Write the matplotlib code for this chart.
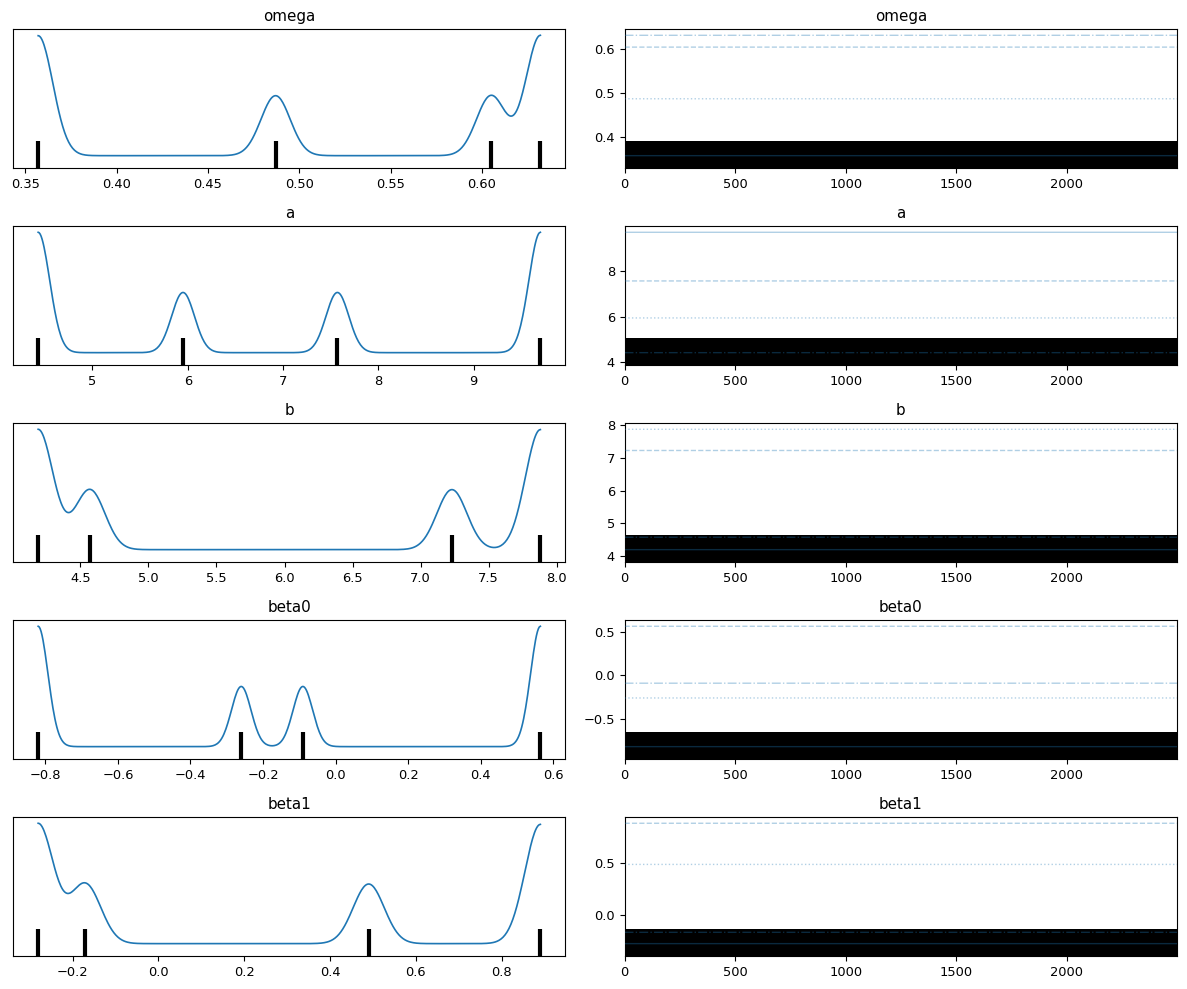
import numpy as np
import matplotlib
matplotlib.use('Agg')
import matplotlib.pyplot as plt

plt.rcParams['font.family'] = ['DejaVu Sans']

# variable names and the (stuck) value of each of the 4 chains
var_names = ['omega', 'a', 'b', 'beta0', 'beta1']
omega_chains = [0.357, 0.605, 0.487, 0.632]
a_chains = [9.70, 7.57, 5.95, 4.43]
b_chains = [4.19, 7.23, 7.88, 4.57]
beta0_chains = [-0.82, 0.565, -0.26, -0.09]
beta1_chains = [-0.28, 0.89, 0.49, -0.17]
chain_values = [omega_chains, a_chains, b_chains, beta0_chains, beta1_chains]

# kde bandwidth
bandwidths = [0.008, 0.12, 0.11, 0.027, 0.036]

n_draws = 2500
draws = np.arange(n_draws)
chain_styles = ['-', '--', ':', '-.']


def kde_reflect(vals, bw, grid):
    # gaussian kde with reflection at the data bounds
    lo, hi = min(vals), max(vals)
    dens = np.zeros_like(grid)
    for v in vals:
        for c in (v, 2 * lo - v, 2 * hi - v):
            dens += np.exp(-0.5 * ((grid - c) / bw) ** 2)
    return dens / (len(vals) * bw * np.sqrt(2 * np.pi))


fig, axes = plt.subplots(5, 2, figsize=(11.87, 9.89), dpi=100)
fig.subplots_adjust(left=0.011, right=0.9916, top=0.9707, bottom=0.0334,
                    wspace=0.107, hspace=0.417)

for i, name in enumerate(var_names):
    vals = chain_values[i]
    ax_l, ax_r = axes[i]

    # left: combined density + rug of divergent values
    grid = np.linspace(min(vals), max(vals), 512)
    ax_l.plot(grid, kde_reflect(vals, bandwidths[i], grid), color='C0', lw=1.2)
    y0 = ax_l.get_ylim()[0]
    ax_l.plot(vals, np.zeros(len(vals)) + y0, marker='|', color='black',
              markeredgewidth=3, markersize=30, linestyle='None')
    ax_l.set_yticks([])
    ax_l.set_title(name, fontsize=10.9)
    ax_l.tick_params(labelsize=9.4)

    # right: trace per chain + divergence markers
    for c, v in enumerate(vals):
        ax_r.plot(draws, np.full(n_draws, v), color='C0', alpha=0.35,
                  lw=1.0, linestyle=chain_styles[c], zorder=3)
    y0 = ax_r.get_ylim()[0]
    ax_r.plot(draws, np.zeros(n_draws) + y0, marker='|', color='black',
              markeredgewidth=1.5, markersize=30, linestyle='None', zorder=2)
    ax_r.set_xlim(draws[0], draws[-1])
    ax_r.set_title(name, fontsize=10.9)
    ax_r.tick_params(labelsize=9.4)

fig.savefig('out.png', dpi=100)
